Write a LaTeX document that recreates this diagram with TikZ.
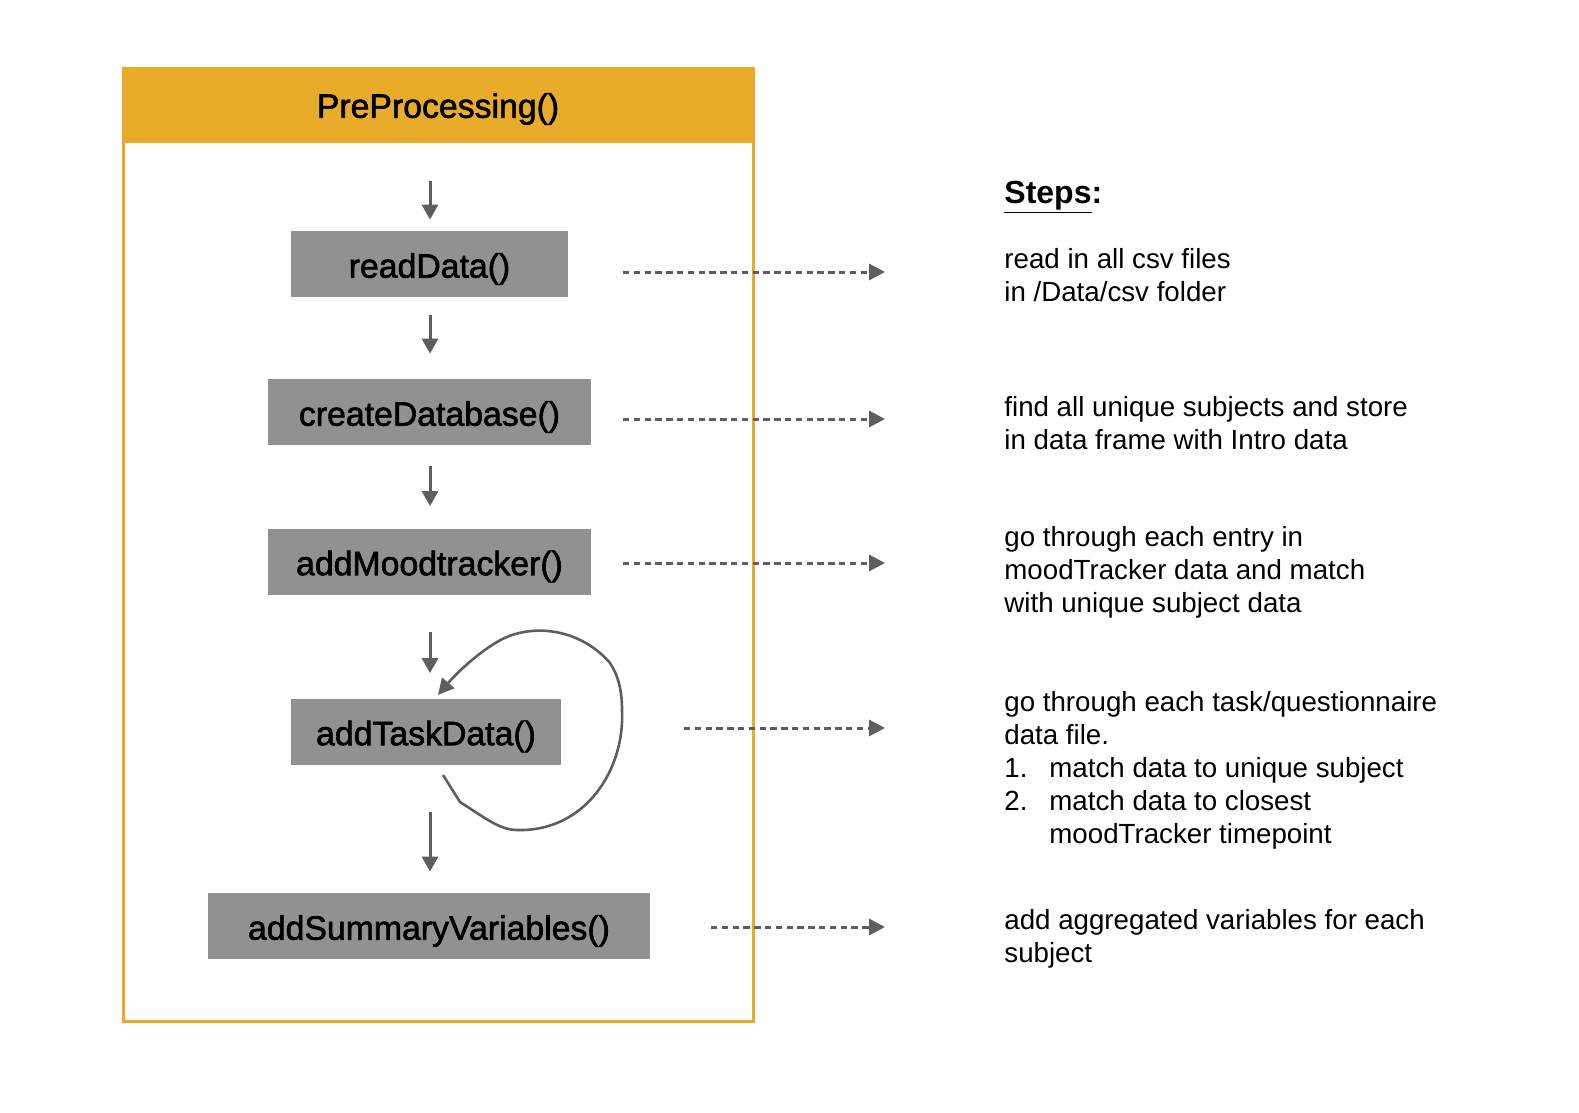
\documentclass[tikz,border=0pt]{standalone}
\usepackage{fontspec}
\setmainfont{Liberation Sans}
\newfontfamily\medfont[FakeBold=1.8]{Liberation Sans}
\usetikzlibrary{arrows.meta,calc}
\definecolor{orangeH}{HTML}{E9AB2A}
\definecolor{boxgray}{HTML}{919191}
\definecolor{arrgray}{HTML}{5E5E5E}
\begin{document}
\begin{tikzpicture}[x=0.5pt,y=-0.5pt,
 fn/.style={fill=boxgray, draw=none, minimum height=33pt, inner sep=0pt, text height=14pt, text depth=0.3pt, font=\medfont\fontsize{16.9}{20}\selectfont, text=black},
 downarr/.style={draw=arrgray, line width=1.5pt, -{Triangle[length=7.5pt,width=8pt]}},
 dasharr/.style={draw=arrgray, line width=1.5pt, dash pattern=on 3.2pt off 2.2pt, -{Triangle[length=8pt,width=8pt]}},
 looparr/.style={draw=arrgray, line width=1.3pt, -{Triangle[length=8pt,width=8pt]}},
 steptext/.style={anchor=base west, inner sep=0pt, align=left, font=\fontsize{13.85}{16.6}\selectfont},
]
\useasboundingbox (0,0) rectangle (1579,1113);
% outer frame
\fill[orangeH] (123,68.5) rectangle (753,143);
\draw[orangeH, line width=1.5pt] (123,68.5) rectangle (753,1021);
\node[inner sep=0pt, font=\medfont\fontsize{16.9}{20}\selectfont] (title) at (438,109) {PreProcessing()};
% function boxes
\node[fn, minimum width=138.5pt] (rd) at (429.5,264) {readData()};
\node[fn, minimum width=161.5pt] (cd) at (429.5,412) {createDatabase()};
\node[fn, minimum width=161.5pt] (mt) at (429.5,561.5) {addMoodtracker()};
\node[fn, minimum width=135pt] (td) at (426,731.5) {addTaskData()};
\node[fn, minimum width=221pt] (ss) at (429,926) {addSummaryVariables()};
% down arrows
\coordinate (a0) at (430,181);
\draw[downarr, shorten >=5.5pt] (a0) -- (a0 |- rd.north);
\draw[downarr, shorten <=9pt, shorten >=12.5pt] (a0 |- rd.south) -- (a0 |- cd.north);
\draw[downarr, shorten <=10.5pt, shorten >=11pt] (a0 |- cd.south) -- (a0 |- mt.north);
\draw[downarr, shorten <=18.5pt, shorten >=12.5pt] (a0 |- mt.south) -- (a0 |- td.north);
\draw[downarr, shorten <=23.5pt, shorten >=10.5pt] (a0 |- td.south) -- (a0 |- ss.north);
% loop on addTaskData
\coordinate (l0) at (443,775);
\coordinate (lt) at (438,695);
\draw[looparr] (l0) -- (460,802) .. controls (485,818) and (500,830) .. (517,830)
  .. controls (585,832) and (625,770) .. (622,710)
  .. controls (622,690) and (618,675) .. (610,663)
  .. controls (580,628) and (530,622) .. (497,642)
  .. controls (475,655) and (455,675) .. (lt);
% dashed arrows
\coordinate (d1s) at (623,272); \coordinate (d1e) at (885,272);
\coordinate (d2s) at (623,419); \coordinate (d2e) at (885,419);
\coordinate (d3s) at (623,563); \coordinate (d3e) at (885,563);
\coordinate (d4s) at (684,728); \coordinate (d4e) at (885,728);
\coordinate (d5s) at (711,927); \coordinate (d5e) at (885,927);
\draw[dasharr] (d1s) -- (d1e);
\draw[dasharr] (d2s) -- (d2e);
\draw[dasharr] (d3s) -- (d3e);
\draw[dasharr] (d4s) -- (d4e);
\draw[dasharr] (d5s) -- (d5e);
% steps text (base anchor = baseline of the last line)
\node[anchor=base west, inner sep=0pt, font=\bfseries\fontsize{16}{19}\selectfont] (steps) at (1004,203) {\underline{Steps}:};
\node[steptext] (s1) at (1004,301.2) {read in all csv files\\in /Data/csv folder};
\node[steptext] (s2) at (1004,449.2) {find all unique subjects and store\\in data frame with Intro data};
\node[steptext] (s3) at (1004,612.4) {go through each entry in\\moodTracker data and match\\with unique subject data};
\node[steptext] (s4) at (1004,843.8) {go through each task/questionnaire\\data file.\\\makebox[22.5pt][l]{1.}match data to unique subject\\\makebox[22.5pt][l]{2.}match data to closest\\\hspace*{22.5pt}moodTracker timepoint};
\node[steptext] (s5) at (1004,962.2) {add aggregated variables for each\\subject};
\end{tikzpicture}
\end{document}
